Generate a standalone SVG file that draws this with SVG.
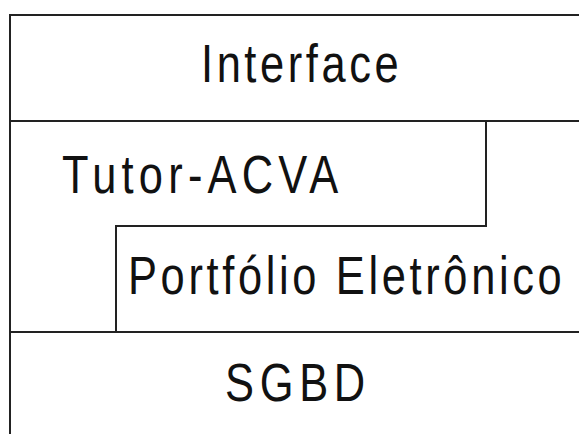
<svg xmlns="http://www.w3.org/2000/svg" width="579" height="434" viewBox="0 0 579 434">
  <style>
    .edge { fill: none; stroke: #222; stroke-width: 2; }
    .label { font-family: "Liberation Sans", Arial, sans-serif; font-size: 53px; fill: #111; }
  </style>
  <rect width="579" height="434" fill="#fff"/>
  <g id="connectors">
    <!-- outer frame: top and left edges -->
    <path class="edge" d="M10,434 V15 H579"/>
    <!-- layer separators -->
    <path class="edge" d="M10,121 H579"/>
    <path class="edge" d="M10,332 H579"/>
    <!-- stepped boundary between Tutor-ACVA and Portfolio -->
    <path class="edge" d="M486,121 V226 H116 V332"/>
  </g>
  <!-- labels use a narrowed, letter-spaced sans -->
  <g id="interface">
    <text class="label" transform="translate(201,82) scale(0.82,1)" textLength="241" lengthAdjust="spacing">Interface</text>
  </g>
  <g id="tutor-acva">
    <text class="label" transform="translate(62,193) scale(0.82,1)" textLength="337" lengthAdjust="spacing">Tutor-ACVA</text>
  </g>
  <g id="portfolio">
    <text class="label" transform="translate(128,294) scale(0.82,1)" textLength="529" lengthAdjust="spacing">Portfólio Eletrônico</text>
  </g>
  <g id="sgbd">
    <text class="label" transform="translate(225,401) scale(0.82,1)" textLength="171" lengthAdjust="spacing">SGBD</text>
  </g>
</svg>
